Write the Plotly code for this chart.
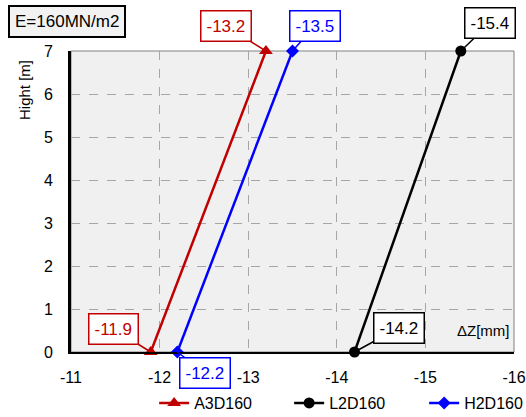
import plotly.graph_objects as go

# Settlement profiles, E = 160 MN/m2
heights = [0, 7]
a3d160 = [-11.9, -13.2]
l2d160 = [-14.2, -15.4]
h2d160 = [-12.2, -13.5]

x_ticks = [-11, -12, -13, -14, -15, -16]
y_ticks = [0, 1, 2, 3, 4, 5, 6, 7]

FONT = "Liberation Sans Narrow, Arial Narrow, Liberation Sans, Arial, sans-serif"
RED = "#c00000"
BLACK = "#000000"
BLUE = "#0000ff"

W, H = 526, 417
ML, MR, MT, MB = 71, 12, 51, 65
PW, PH = W - ML - MR, H - MT - MB


def px_to_paper(px, py):
    return (px - ML) / PW, (H - MB - py) / PH


fig = go.Figure()

series = [
    ("A3D160", a3d160, RED, "triangle-up", 12),
    ("L2D160", l2d160, BLACK, "circle", 11),
    ("H2D160", h2d160, BLUE, "diamond", 10),
]
for name, xs, color, symbol, size in series:
    fig.add_trace(go.Scatter(
        x=xs, y=heights, name=name, mode="lines+markers",
        line=dict(color=color, width=2.5),
        marker=dict(symbol=symbol, size=size, color=color),
        cliponaxis=False,
    ))

# Value callouts: (x, y, color, ax, ay)
callouts = [
    (a3d160[1], heights[1], RED, -40, -25),
    (h2d160[1], heights[1], BLUE, 22, -25),
    (l2d160[1], heights[1], BLACK, 29, -28),
    (a3d160[0], heights[0], RED, -37, -23),
    (h2d160[0], heights[0], BLUE, 28, 21),
    (l2d160[0], heights[0], BLACK, 44, -24),
]
for x, y, color, ax, ay in callouts:
    fig.add_annotation(
        x=x, y=y, xref="x", yref="y", text=f"{x:.1f}",
        showarrow=True, arrowhead=0, arrowwidth=1.5, arrowcolor=color,
        ax=ax, ay=ay, font=dict(family=FONT, size=17, color=color),
        bordercolor=color, borderwidth=1.5, borderpad=5, bgcolor="white",
    )

# Plot-area frame (thin grey on top/right)
fig.add_shape(type="rect", xref="paper", yref="paper", x0=0, y0=0, x1=1, y1=1,
              line=dict(color="#808080", width=1), layer="below")

ex, ey = px_to_paper(8, 21)
fig.add_annotation(
    x=ex, y=ey, xref="paper", yref="paper",
    xanchor="left", yanchor="middle",
    text="E=160MN/m2", showarrow=False,
    font=dict(family=FONT, size=17, color="black"),
    bordercolor="black", borderwidth=2, borderpad=5, bgcolor="#f2f2f2",
)
hx, hy = px_to_paper(25, 90)
fig.add_annotation(
    x=hx, y=hy, xref="paper", yref="paper",
    xanchor="center", yanchor="middle",
    text="Hight [m]", textangle=-90, showarrow=False,
    font=dict(family=FONT, size=15, color="black"),
)
fig.add_annotation(
    x=0.995, y=0.07, xref="paper", yref="paper", xanchor="right", yanchor="middle",
    text="ΔZ[mm]", showarrow=False,
    font=dict(family=FONT, size=15, color="black"),
)

fig.update_layout(
    width=W, height=H,
    margin=dict(l=ML, r=MR, t=MT, b=MB, autoexpand=False),
    paper_bgcolor="white", plot_bgcolor="#f0f0f0",
    font=dict(family=FONT, size=16, color="black"),
    showlegend=True,
    legend=dict(orientation="h", x=0.678, xanchor="center",
                y=1 - 403 / H, yanchor="middle", yref="container", xref="container",
                font=dict(family=FONT, size=16), bgcolor="rgba(0,0,0,0)",
                entrywidth=90, entrywidthmode="pixels", tracegroupgap=0),
    xaxis=dict(
        range=[-11, -16], tickvals=x_ticks, ticktext=[str(v) for v in x_ticks],
        showgrid=True, gridcolor="#a6a6a6", griddash="dash", gridwidth=1,
        showline=True, linecolor="black", linewidth=2,
        ticks="outside", ticklen=10, tickcolor="rgba(0,0,0,0)",
        zeroline=False, fixedrange=True, automargin=False,
    ),
    yaxis=dict(
        range=[0, 7], tickvals=y_ticks, ticktext=[str(v) for v in y_ticks],
        showgrid=True, gridcolor="#a6a6a6", griddash="dash", gridwidth=1,
        showline=True, linecolor="black", linewidth=3,
        ticks="outside", ticklen=12, tickcolor="rgba(0,0,0,0)",
        zeroline=False, fixedrange=True, automargin=False,
    ),
)

fig.write_html("out.html")
